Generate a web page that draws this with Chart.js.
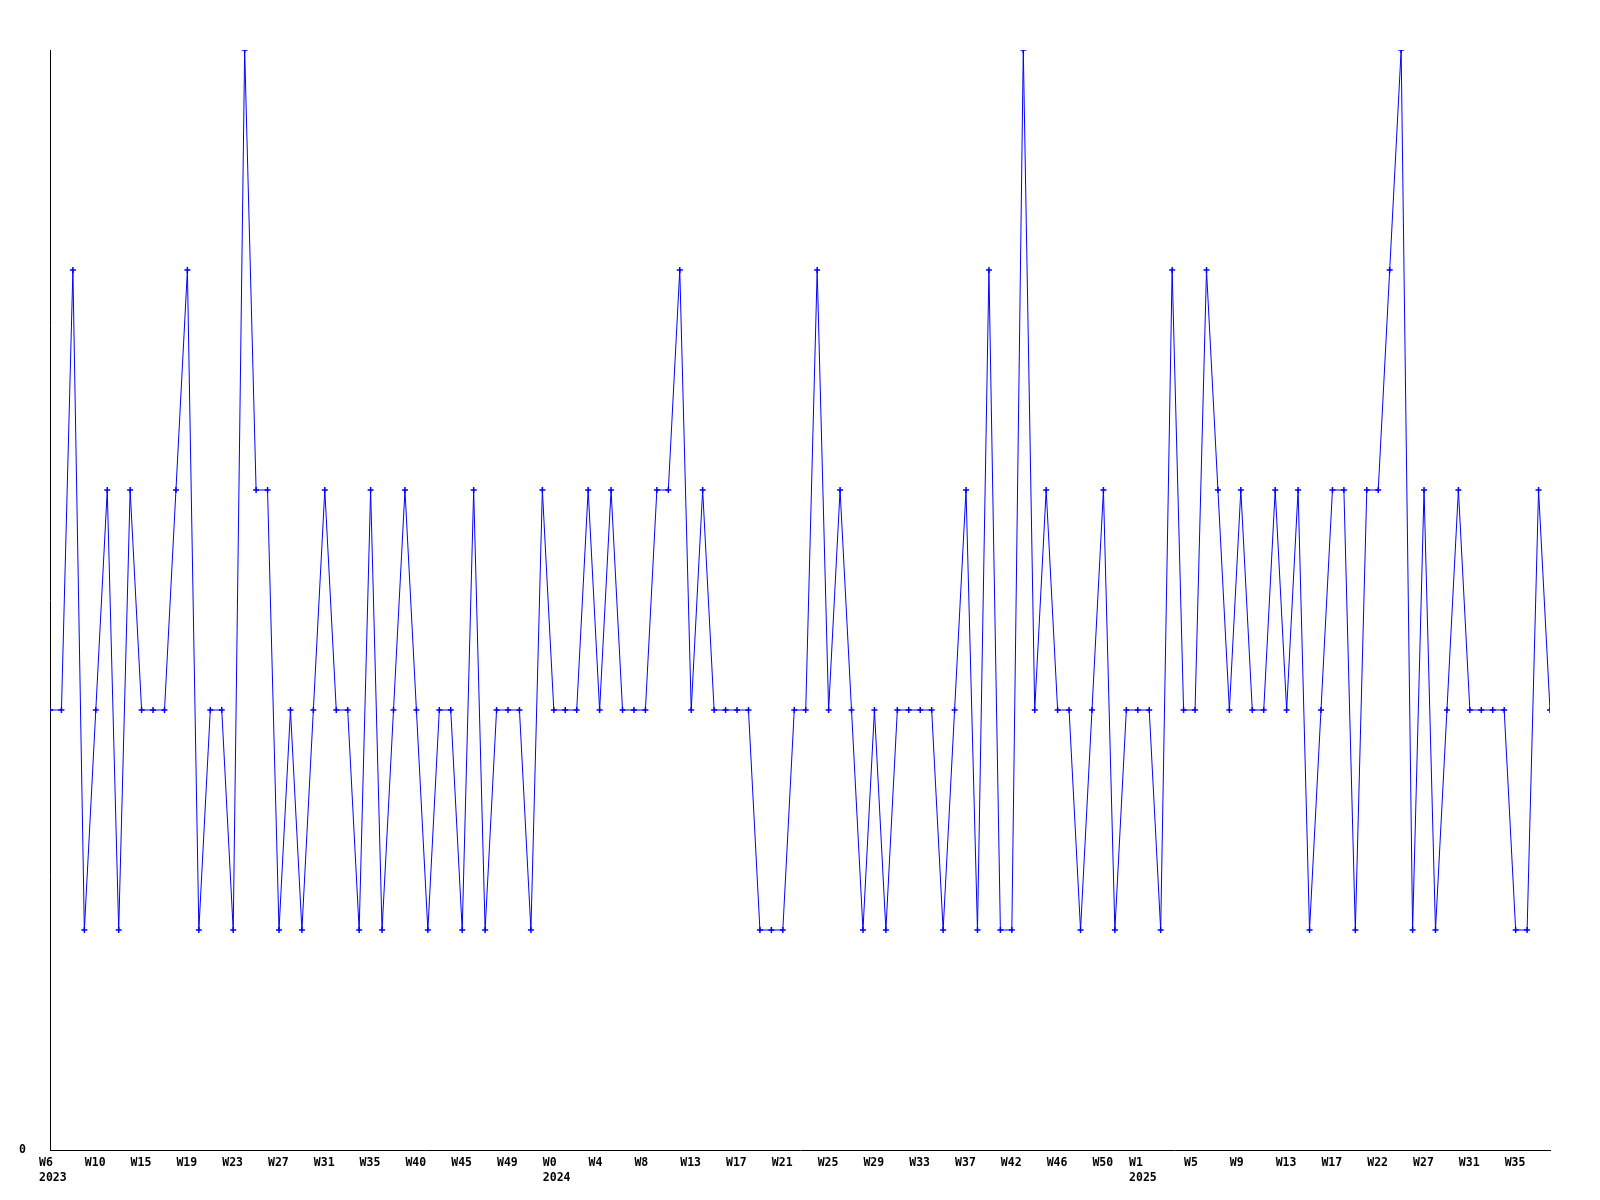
<!DOCTYPE html>
<html lang="en">
<head>
    <meta charset="UTF-8">
    <title>Weekly values</title>
    <script src="https://cdn.jsdelivr.net/npm/chart.js"></script>
    <style>
        body {
            margin: 0;
            background: #fff;
        }
        #chart {
            display: block;
        }
    </style>
</head>
<body>
    <canvas id="chart" width="1600" height="1200"></canvas>

    <script>
        // one value per week, 2023 W6 onwards
        const values = [
            2, 2, 4, 1, 2, 3, 1, 3, 2, 2, 2, 3, 4, 1, 2, 2, 1, 5, 3, 3,
            1, 2, 1, 2, 3, 2, 2, 1, 3, 1, 2, 3, 2, 1, 2, 2, 1, 3, 1, 2,
            2, 2, 1, 3, 2, 2, 2, 3, 2, 3, 2, 2, 2, 3, 3, 4, 2, 3, 2, 2,
            2, 2, 1, 1, 1, 2, 2, 4, 2, 3, 2, 1, 2, 1, 2, 2, 2, 2, 1, 2,
            3, 1, 4, 1, 1, 5, 2, 3, 2, 2, 1, 2, 3, 1, 2, 2, 2, 1, 4, 2,
            2, 4, 3, 2, 3, 2, 2, 3, 2, 3, 1, 2, 3, 3, 1, 3, 3, 4, 5, 1,
            3, 1, 2, 3, 2, 2, 2, 2, 1, 1, 3, 2
        ];

        // labels shown on every 4th week
        const weekTicks = [
            "W6", "W10", "W15", "W19", "W23", "W27", "W31", "W35", "W40", "W45", "W49",
            "W0", "W4", "W8", "W13", "W17", "W21", "W25", "W29", "W33", "W37", "W42",
            "W46", "W50", "W1", "W5", "W9", "W13", "W17", "W22", "W27", "W31", "W35"
        ];
        const yearTicks = { 0: "2023", 11: "2024", 24: "2025" };
        const tickStep = 4;
        // 1 Jan 2025 falls mid-week, so that tick sits a bit before its week
        const tickShift = { 24: -0.8 };

        const points = values.map((v, i) => ({ x: i, y: v }));
        const tickPos = weekTicks.map((w, k) => k * tickStep + (tickShift[k] || 0));

        const font = { family: "'DejaVu Sans Mono', monospace", size: 11.5, weight: "bold", lineHeight: 1.3 };

        new Chart(document.getElementById("chart"), {
            type: "line",
            data: {
                datasets: [{
                    data: points,
                    borderColor: "#0000ff",
                    borderWidth: 1,
                    fill: false,
                    tension: 0,
                    pointStyle: "cross",
                    pointRadius: 3,
                    pointBorderWidth: 1.5,
                    pointBorderColor: "#0000ff",
                    pointBackgroundColor: "#0000ff"
                }]
            },
            options: {
                responsive: false,
                animation: false,
                layout: { padding: { top: 50, right: 50, left: 0, bottom: 0 } },
                plugins: {
                    legend: { display: false },
                    tooltip: { enabled: false }
                },
                scales: {
                    x: {
                        type: "linear",
                        min: 0,
                        max: values.length - 1,
                        grid: { display: false, drawTicks: false },
                        border: { display: true, color: "#000", width: 1 },
                        afterFit: s => { s.height = 50; },
                        afterBuildTicks: s => { s.ticks = tickPos.map(v => ({ value: v })); },
                        ticks: {
                            autoSkip: false,
                            maxRotation: 0,
                            minRotation: 0,
                            align: "start",
                            labelOffset: -11,
                            padding: 6,
                            color: "#000",
                            font: font,
                            callback: function (val, k) {
                                const w = weekTicks[k];
                                if (w === undefined) return null;
                                return yearTicks[k] ? [w, yearTicks[k]] : w;
                            }
                        }
                    },
                    y: {
                        min: 0,
                        max: 5,
                        grid: { display: false, drawTicks: false },
                        border: { display: true, color: "#000", width: 1 },
                        afterFit: s => { s.width = 50; },
                        ticks: {
                            stepSize: 1,
                            padding: 24,
                            color: "#000",
                            font: font,
                            callback: v => v === 0 ? "0" : ""
                        }
                    }
                }
            }
        });
    </script>
</body>
</html>
